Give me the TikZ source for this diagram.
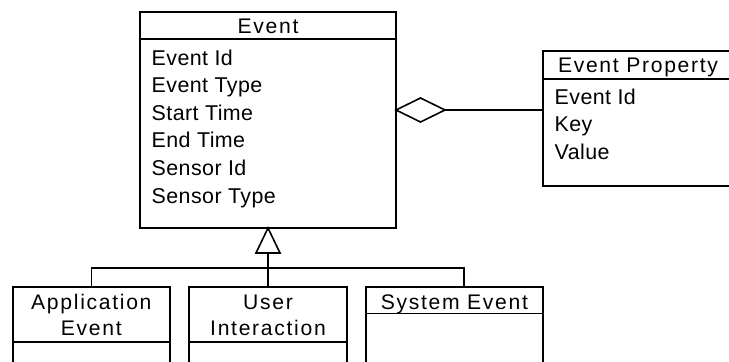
\documentclass[tikz,border=0pt]{standalone}
\usepackage{fontspec}
\setmainfont{Liberation Sans}[LetterSpace=2]
\newfontfamily\titlefont[LetterSpace=8]{Liberation Sans}
\usetikzlibrary{shapes.geometric}
\begin{document}
\begin{tikzpicture}[x=1bp,y=-1bp,
  box/.style={draw, line width=1.7bp, anchor=north west, inner sep=0pt, outer sep=0pt},
  sep/.style={line width=1.7bp},
  ttl/.style={font=\titlefont\fontsize{21.2}{26.5}\selectfont, inner sep=0pt, anchor=base},
  attr/.style={font=\fontsize{21.5}{27.5}\selectfont, inner sep=0pt, anchor=base west},
  conn/.style={line width=1.6bp, line join=miter}]
\useasboundingbox (0,0) rectangle (729,361);
\clip (0,0) rectangle (729,361);

% Event class
\node[box, minimum width=256bp, minimum height=216bp] (event) at (140,12) {};
\draw[sep] ([yshift=-27bp]event.north west) -- ([yshift=-27bp]event.north east);
\node[ttl] (eventT) at (268,33) {Event};
\node[attr] (e1) at (151.5,65) {Event Id};
\node[attr] (e2) at (151.5,92.6) {Event Type};
\node[attr] (e3) at (151.5,120.2) {Start Time};
\node[attr] (e4) at (151.5,147.8) {End Time};
\node[attr] (e5) at (151.5,175.4) {Sensor Id};
\node[attr] (e6) at (151.5,203) {Sensor Type};

% Event Property class
\node[box, minimum width=190bp, minimum height=135.5bp] (prop) at (543,50.7) {};
\draw[sep] ([yshift=-28.3bp]prop.north west) -- ([yshift=-28.3bp]prop.north east);
\node[ttl] (propT) at (638,72.5) {Event Property};
\node[attr] (p1) at (554.5,104) {Event Id};
\node[attr] (p2) at (554.5,131.6) {Key};
\node[attr] (p3) at (554.5,159.2) {Value};

% aggregation
\node[diamond, draw, line width=1.6bp, minimum width=49bp, minimum height=24bp,
      inner sep=0pt, outer sep=0pt, anchor=west, fill=white] (agg) at (396,110) {};
\draw[conn] (agg.east) -- (prop.west |- agg.east);

% sub classes
\node[box, minimum width=157.3bp, minimum height=90bp] (app) at (12.7,287) {};
\draw[sep] ([yshift=-54.7bp]app.north west) -- ([yshift=-54.7bp]app.north east);
\node[ttl] (appT1) at (91.35,309) {Application};
\node[ttl] (appT2) at (91.35,335.5) {Event};

\node[box, minimum width=157.4bp, minimum height=90bp] (user) at (189.3,287) {};
\draw[sep] ([yshift=-54.7bp]user.north west) -- ([yshift=-54.7bp]user.north east);
\node[ttl] (userT1) at (268,309) {User};
\node[ttl] (userT2) at (268,335.5) {Interaction};

\node[box, minimum width=176.7bp, minimum height=90bp] (sys) at (366,287) {};
\draw[sep] ([yshift=-26.5bp]sys.north west) -- ([yshift=-26.5bp]sys.north east);
\node[ttl] (sysT) at (454.35,309) {System Event};

% generalisation
\coordinate (tb) at ([yshift=-25bp]event.south);
\draw[conn] (event.south) -- ([xshift=12bp]tb) -- ([xshift=-12bp]tb) -- cycle;
\draw[conn] (tb) -- (user.north);
\coordinate (bar) at (268,267.7);
\coordinate (sj) at (464,287);
\draw[conn] (app.north) |- (bar) -| (sj);
\end{tikzpicture}
\end{document}
